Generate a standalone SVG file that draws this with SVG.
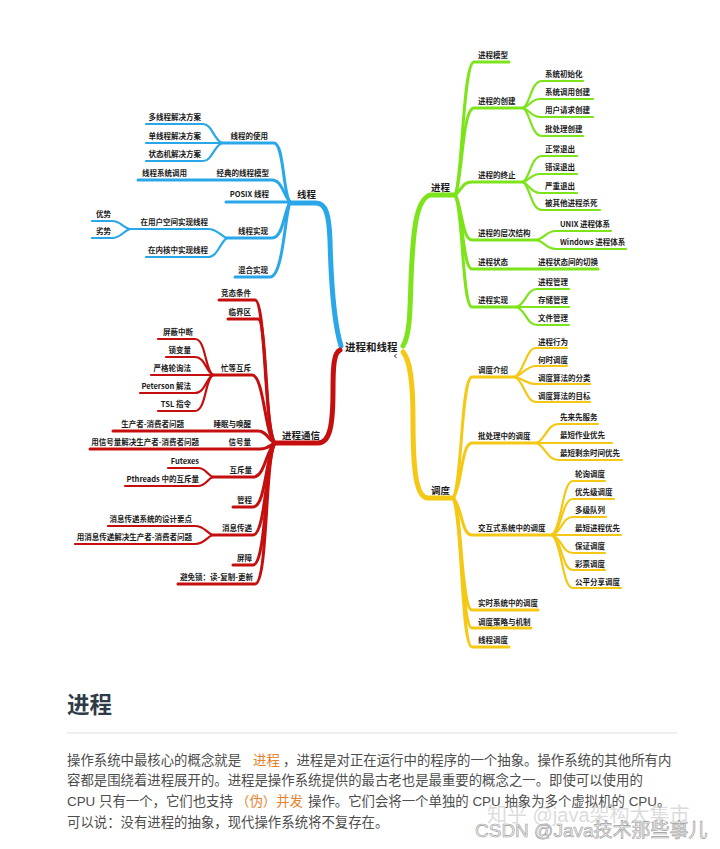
<svg xmlns="http://www.w3.org/2000/svg" width="720" height="849" viewBox="0 0 720 849">
<style>
.c{fill:none;stroke-linecap:round;stroke-linejoin:round}
.b{stroke:#2aa7e8}.r{stroke:#c50f0f}.g{stroke:#7de31a}.y{stroke:#f4c814}
.w5{stroke-width:5}.w3{stroke-width:3}.w2{stroke-width:2.2}
text{font-family:"Noto Sans CJK SC","Liberation Sans",sans-serif}
.n{font-size:7.5px;font-weight:bold;fill:#1a1a1a}
.e{text-anchor:end}
.m{font-size:9.5px;font-weight:bold;fill:#1a1a1a}
.p{font-size:13.4px;fill:#4d4d4d;font-family:"Liberation Sans","Noto Sans CJK SC",sans-serif}
.o{fill:#e8822a}
</style>
<rect width="720" height="849" fill="#fff"/>
<g id="connectors">
<!-- blue -->
<path class="c b w5" d="M341,346 C333,320 331,280 330,240 C329,215 326,203 316,203 L290,203"/>
<path class="c b w3" d="M222,143 H274 C284,143 283,195 290,202"/>
<path class="c b w2" d="M146,124 H203 C212,124 214,140 222,143"/>
<path class="c b w2" d="M146,143 H222"/>
<path class="c b w2" d="M146,161 H203 C212,161 214,146 222,143"/>
<path class="c b w3" d="M138,180 H272 C282,180 284,196 290,202"/>
<path class="c b w3" d="M226,202 H290"/>
<path class="c b w3" d="M227,238 H272 C283,238 284,212 290,202"/>
<path class="c b w2" d="M130,229 H208 C218,229 220,236 227,238"/>
<path class="c b w2" d="M146,257 H208 C218,257 220,242 227,238"/>
<path class="c b w2" d="M92,221 H112 C121,221 123,228 130,229"/>
<path class="c b w2" d="M92,238 H112 C121,238 123,231 130,229"/>
<path class="c b w3" d="M235,277 H270 C283,277 285,215 290,202"/>
<!-- red -->
<path class="c r w5" d="M340,350 C334,353 333,365 333,390 C333,425 330,443 318,443 H275"/>
<path class="c r w3" d="M219,300 H255 C266,300 264,430 275,443"/>
<path class="c r w3" d="M228,319 H258 C267,319 265,432 275,443"/>
<path class="c r w3" d="M213,375 H252 C264,375 265,437 275,443"/>
<path class="c r w2" d="M158,339 H195 C206,339 205,371 213,375"/>
<path class="c r w2" d="M166,357 H195 C205,357 206,372 213,375"/>
<path class="c r w2" d="M151,375 H213"/>
<path class="c r w2" d="M140,393 H195 C205,393 206,378 213,375"/>
<path class="c r w2" d="M158,411 H195 C206,411 205,379 213,375"/>
<path class="c r w3" d="M113,431 H258 C267,431 268,440 275,443"/>
<path class="c r w3" d="M90,449 H260 C268,449 270,445 275,443"/>
<path class="c r w3" d="M213,477 H253 C265,477 266,450 275,443"/>
<path class="c r w2" d="M168,468 H198 C206,468 207,475 213,477"/>
<path class="c r w2" d="M125,486 H198 C206,486 207,479 213,477"/>
<path class="c r w3" d="M233,507 H253 C266,507 266,452 275,443"/>
<path class="c r w3" d="M213,535 H253 C266,535 266,455 275,443"/>
<path class="c r w2" d="M108,526 H195 C205,526 206,533 213,535"/>
<path class="c r w2" d="M75,544 H195 C205,544 206,537 213,535"/>
<path class="c r w3" d="M233,565 H253 C267,565 265,456 275,443"/>
<path class="c r w3" d="M178,584 H255 C268,584 265,457 275,443"/>
<!-- green -->
<path class="c g w5" d="M403,346 C410,335 410,310 411,280 C413,230 416,200 430,195 H455"/>
<path class="c g w3" d="M455,195 C462,185 463,62 474,62 H509"/>
<path class="c g w3" d="M455,195 C462,185 462,108 474,108 H523"/>
<path class="c g w2" d="M523,108 C530,105 531,81 542,81 H583"/>
<path class="c g w2" d="M523,108 C530,106 531,99 540,99 H593"/>
<path class="c g w2" d="M523,108 C530,110 531,117 540,117 H593"/>
<path class="c g w2" d="M523,108 C530,111 531,136 542,136 H583"/>
<path class="c g w3" d="M455,195 C462,190 462,182 472,182 H523"/>
<path class="c g w2" d="M523,182 C530,178 531,156 542,156 H577"/>
<path class="c g w2" d="M523,182 C530,180 531,174 540,174 H577"/>
<path class="c g w2" d="M523,182 C530,185 531,193 540,193 H577"/>
<path class="c g w2" d="M523,182 C530,186 531,210 542,210 H600"/>
<path class="c g w3" d="M455,195 C462,205 462,240 472,240 H537"/>
<path class="c g w2" d="M537,240 C545,238 546,231 556,231 H611"/>
<path class="c g w2" d="M537,240 C545,242 546,249 556,249 H626"/>
<path class="c g w3" d="M455,195 C463,205 462,269 472,269 H598"/>
<path class="c g w3" d="M455,195 C463,205 462,307 472,307 H517"/>
<path class="c g w2" d="M517,307 C526,303 527,289 537,289 H569"/>
<path class="c g w2" d="M517,307 H569"/>
<path class="c g w2" d="M517,307 C526,311 527,325 537,325 H569"/>
<!-- yellow -->
<path class="c y w5" d="M403,352 C410,360 413,380 413,420 C413,470 416,498 428,498 H453"/>
<path class="c y w3" d="M453,498 C462,488 461,377 472,377 H515"/>
<path class="c y w2" d="M515,377 C524,372 526,348 536,348 H567"/>
<path class="c y w2" d="M515,377 C524,374 526,366 536,366 H567"/>
<path class="c y w2" d="M515,377 C524,379 526,384 536,384 H590"/>
<path class="c y w2" d="M515,377 C524,381 526,402 536,402 H590"/>
<path class="c y w3" d="M453,498 C462,488 461,443 472,443 H537"/>
<path class="c y w2" d="M537,443 C546,438 548,424 558,424 H598"/>
<path class="c y w2" d="M537,443 H612"/>
<path class="c y w2" d="M537,443 C546,448 548,460 558,460 H622"/>
<path class="c y w3" d="M453,498 C462,505 461,535 472,535 H552"/>
<path class="c y w2" d="M552,535 C562,528 562,481 573,481 H605"/>
<path class="c y w2" d="M552,535 C562,530 562,499 573,499 H614"/>
<path class="c y w2" d="M552,535 C562,532 562,517 573,517 H606"/>
<path class="c y w2" d="M552,535 H621"/>
<path class="c y w2" d="M552,535 C562,538 562,553 573,553 H605"/>
<path class="c y w2" d="M552,535 C562,540 562,570 573,570 H605"/>
<path class="c y w2" d="M552,535 C562,542 562,588 573,588 H621"/>
<path class="c y w3" d="M453,498 C462,508 461,610 472,610 H538"/>
<path class="c y w3" d="M453,498 C462,508 461,628 472,628 H531"/>
<path class="c y w3" d="M453,498 C462,508 461,647 472,647 H509"/>
</g>
<g id="root"><text class="m" x="345" y="351" style="font-size:10.5px">进程和线程</text><path d="M394,356 h2 M397,354.5 a1.6,1.6 0 1 0 0,3" fill="none" stroke="#333" stroke-width="0.7"/></g>
<g id="thread"><text class="m" x="297" y="198">线程</text></g>
<g id="t-use"><text class="n e" x="268" y="139">线程的使用</text></g>
<g id="t-use-1"><text class="n e" x="201" y="120">多线程解决方案</text></g>
<g id="t-use-2"><text class="n e" x="201" y="139">单线程解决方案</text></g>
<g id="t-use-3"><text class="n e" x="201" y="157">状态机解决方案</text></g>
<g id="t-classic"><text class="n e" x="269" y="176">经典的线程模型</text></g>
<g id="t-classic-1"><text class="n e" x="187" y="176">线程系统调用</text></g>
<g id="t-posix"><text class="n e" x="269" y="197">POSIX 线程</text></g>
<g id="t-impl"><text class="n e" x="268" y="234">线程实现</text></g>
<g id="t-impl-user"><text class="n e" x="208" y="225">在用户空间实现线程</text></g>
<g id="t-impl-kernel"><text class="n e" x="208" y="253">在内核中实现线程</text></g>
<g id="t-adv"><text class="n e" x="111" y="217">优势</text></g>
<g id="t-dis"><text class="n e" x="111" y="234">劣势</text></g>
<g id="t-hybrid"><text class="n e" x="268" y="273">混合实现</text></g>
<g id="ipc"><text class="m" x="282" y="439">进程通信</text></g>
<g id="i-race"><text class="n e" x="251" y="296">竞态条件</text></g>
<g id="i-critical"><text class="n e" x="251" y="315">临界区</text></g>
<g id="i-busy"><text class="n e" x="251" y="371">忙等互斥</text></g>
<g id="i-busy-1"><text class="n e" x="193" y="335">屏蔽中断</text></g>
<g id="i-busy-2"><text class="n e" x="191" y="353">锁变量</text></g>
<g id="i-busy-3"><text class="n e" x="191" y="371">严格轮询法</text></g>
<g id="i-busy-4"><text class="n e" x="191" y="389">Peterson 解法</text></g>
<g id="i-busy-5"><text class="n e" x="191" y="407">TSL 指令</text></g>
<g id="i-sleep"><text class="n e" x="251" y="427">睡眠与唤醒</text></g>
<g id="i-sleep-1"><text class="n e" x="184" y="427">生产者-消费者问题</text></g>
<g id="i-sem"><text class="n e" x="251" y="445">信号量</text></g>
<g id="i-sem-1"><text class="n e" x="199" y="445">用信号量解决生产者-消费者问题</text></g>
<g id="i-mutex"><text class="n e" x="252" y="473">互斥量</text></g>
<g id="i-mutex-1"><text class="n e" x="199" y="464">Futexes</text></g>
<g id="i-mutex-2"><text class="n e" x="199" y="482">Pthreads 中的互斥量</text></g>
<g id="i-monitor"><text class="n e" x="252" y="503">管程</text></g>
<g id="i-msg"><text class="n e" x="252" y="531">消息传递</text></g>
<g id="i-msg-1"><text class="n e" x="192" y="522">消息传递系统的设计要点</text></g>
<g id="i-msg-2"><text class="n e" x="192" y="540">用消息传递解决生产者-消费者问题</text></g>
<g id="i-barrier"><text class="n e" x="252" y="561">屏障</text></g>
<g id="i-rcu"><text class="n e" x="253" y="580">避免锁：读-复制-更新</text></g>
<g id="process"><text class="m" x="431" y="191">进程</text></g>
<g id="p-model"><text class="n" x="478" y="58">进程模型</text></g>
<g id="p-create"><text class="n" x="478" y="104">进程的创建</text></g>
<g id="p-create-1"><text class="n" x="545" y="77">系统初始化</text></g>
<g id="p-create-2"><text class="n" x="545" y="95">系统调用创建</text></g>
<g id="p-create-3"><text class="n" x="545" y="113">用户请求创建</text></g>
<g id="p-create-4"><text class="n" x="545" y="132">批处理创建</text></g>
<g id="p-term"><text class="n" x="478" y="178">进程的终止</text></g>
<g id="p-term-1"><text class="n" x="545" y="152">正常退出</text></g>
<g id="p-term-2"><text class="n" x="545" y="170">错误退出</text></g>
<g id="p-term-3"><text class="n" x="545" y="189">严重退出</text></g>
<g id="p-term-4"><text class="n" x="545" y="206">被其他进程杀死</text></g>
<g id="p-hier"><text class="n" x="478" y="236">进程的层次结构</text></g>
<g id="p-hier-1"><text class="n" x="560" y="227">UNIX 进程体系</text></g>
<g id="p-hier-2"><text class="n" x="560" y="245">Windows 进程体系</text></g>
<g id="p-state"><text class="n" x="478" y="265">进程状态</text></g>
<g id="p-state-1"><text class="n" x="538" y="265">进程状态间的切换</text></g>
<g id="p-impl"><text class="n" x="478" y="303">进程实现</text></g>
<g id="p-impl-1"><text class="n" x="538" y="285">进程管理</text></g>
<g id="p-impl-2"><text class="n" x="538" y="303">存储管理</text></g>
<g id="p-impl-3"><text class="n" x="538" y="321">文件管理</text></g>
<g id="sched"><text class="m" x="431" y="494">调度</text></g>
<g id="s-intro"><text class="n" x="478" y="373">调度介绍</text></g>
<g id="s-intro-1"><text class="n" x="538" y="345">进程行为</text></g>
<g id="s-intro-2"><text class="n" x="538" y="363">何时调度</text></g>
<g id="s-intro-3"><text class="n" x="538" y="381">调度算法的分类</text></g>
<g id="s-intro-4"><text class="n" x="538" y="399">调度算法的目标</text></g>
<g id="s-batch"><text class="n" x="478" y="439">批处理中的调度</text></g>
<g id="s-batch-1"><text class="n" x="560" y="420">先来先服务</text></g>
<g id="s-batch-2"><text class="n" x="560" y="438">最短作业优先</text></g>
<g id="s-batch-3"><text class="n" x="560" y="456">最短剩余时间优先</text></g>
<g id="s-inter"><text class="n" x="478" y="531">交互式系统中的调度</text></g>
<g id="s-inter-1"><text class="n" x="575" y="477">轮询调度</text></g>
<g id="s-inter-2"><text class="n" x="575" y="495">优先级调度</text></g>
<g id="s-inter-3"><text class="n" x="575" y="513">多级队列</text></g>
<g id="s-inter-4"><text class="n" x="575" y="531">最短进程优先</text></g>
<g id="s-inter-5"><text class="n" x="575" y="549">保证调度</text></g>
<g id="s-inter-6"><text class="n" x="575" y="567">彩票调度</text></g>
<g id="s-inter-7"><text class="n" x="575" y="585">公平分享调度</text></g>
<g id="s-rt"><text class="n" x="478" y="606">实时系统中的调度</text></g>
<g id="s-policy"><text class="n" x="478" y="625">调度策略与机制</text></g>
<g id="s-thread"><text class="n" x="478" y="643">线程调度</text></g>
<g id="article">
<text x="67" y="713" style="font-size:22.5px;font-weight:600;fill:#2f3b48;font-family:'Noto Sans CJK SC',sans-serif">进程</text>
<line x1="67" y1="733" x2="677" y2="733" stroke="#e8eaed" stroke-width="1.5"/>
<text class="p" y="765"><tspan x="67">操作系统中最核心的概念就是</tspan><tspan class="o" x="253">进程</tspan><tspan x="283">，进程是对正在运行中的程序的一个抽象。操作系统的其他所有内</tspan></text>
<text class="p" y="785" x="67">容都是围绕着进程展开的。进程是操作系统提供的最古老也是最重要的概念之一。即使可以使用的</text>
<text class="p" y="806"><tspan x="67">CPU 只有一个，它们也支持</tspan><tspan class="o" x="236">（伪）并发</tspan><tspan x="308">操作。它们会将一个单独的 CPU 抽象为多个虚拟机的 CPU。</tspan></text>
<text class="p" y="827" x="67">可以说：没有进程的抽象，现代操作系统将不复存在。</text>
</g>
<g id="watermark">
<text x="487" y="822" style="font-size:20px;fill:#b8b8b8;fill-opacity:0.5;font-family:'Liberation Sans','Noto Sans CJK SC',sans-serif">知乎 @java架构大集市</text>
<text x="475" y="837" style="font-size:19px;fill:#f2f2f2;stroke:#9a9a9a;stroke-width:0.6;font-family:'Liberation Sans','Noto Sans CJK SC',sans-serif">CSDN @Java技术那些事儿</text>
</g>
</svg>
